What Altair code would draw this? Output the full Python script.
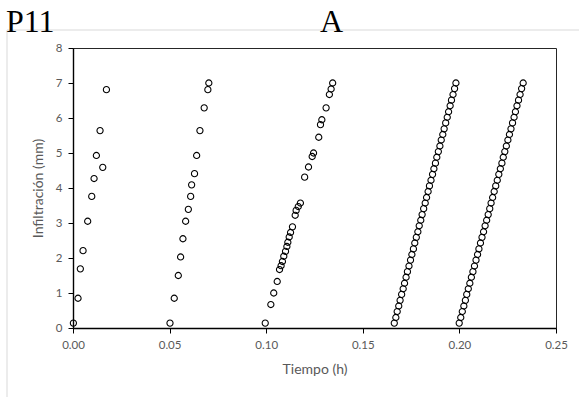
import altair as alt
import pandas as pd

# Series 1
x1 = [0.0002, 0.0026, 0.0038, 0.0052, 0.0076, 0.0097, 0.0109, 0.0121, 0.0154, 0.0140, 0.0173]
y1 = [0.14, 0.85, 1.69, 2.21, 3.05, 3.76, 4.27, 4.93, 4.59, 5.64, 6.81]

# Series 2
x2 = [0.0502, 0.0524, 0.0545, 0.0557, 0.0569, 0.0583, 0.0597, 0.0609, 0.0614, 0.0629, 0.0640,
      0.0657, 0.0679, 0.0698, 0.0703]
y2 = [0.14, 0.85, 1.50, 2.03, 2.55, 3.05, 3.39, 3.76, 4.09, 4.41, 4.93,
      5.64, 6.29, 6.81, 7.00]

# Series 3
x3 = [0.0995, 0.1024, 0.1039, 0.1057, 0.1069, 0.1077, 0.1084, 0.1091, 0.1100, 0.1107, 0.1112,
      0.1119, 0.1126, 0.1136, 0.1150, 0.1155, 0.1166, 0.1177, 0.1199, 0.1219, 0.1238, 0.1245,
      0.1272, 0.1281, 0.1288, 0.1310, 0.1327, 0.1336, 0.1344]
y3 = [0.14, 0.67, 1.00, 1.33, 1.67, 1.78, 1.90, 2.05, 2.19, 2.33, 2.45,
      2.60, 2.73, 2.89, 3.22, 3.36, 3.47, 3.57, 4.31, 4.60, 4.90, 5.00,
      5.45, 5.81, 5.95, 6.29, 6.67, 6.83, 7.00]

# Series 4 and 5 share the infiltration readings
y45 = [0.14, 0.30, 0.47, 0.63, 0.79, 0.96, 1.12, 1.28, 1.45, 1.61, 1.77, 1.94, 2.10, 2.26,
       2.43, 2.59, 2.75, 2.92, 3.08, 3.24, 3.41, 3.57, 3.73, 3.90, 4.06, 4.22, 4.39, 4.55,
       4.71, 4.88, 5.04, 5.20, 5.37, 5.53, 5.69, 5.86, 6.02, 6.18, 6.35, 6.51, 6.67, 6.84, 7.00]
x4 = [0.1663, 0.1671, 0.1678, 0.1686, 0.1693, 0.1701, 0.1709, 0.1716, 0.1724, 0.1731, 0.1739,
      0.1747, 0.1754, 0.1762, 0.1769, 0.1777, 0.1785, 0.1792, 0.1800, 0.1807, 0.1815, 0.1823,
      0.1830, 0.1838, 0.1845, 0.1853, 0.1861, 0.1868, 0.1876, 0.1883, 0.1891, 0.1899, 0.1906,
      0.1914, 0.1921, 0.1929, 0.1937, 0.1944, 0.1952, 0.1959, 0.1967, 0.1975, 0.1982]
x5 = [0.1999, 0.2007, 0.2015, 0.2023, 0.2031, 0.2038, 0.2046, 0.2054, 0.2062, 0.2070, 0.2078,
      0.2086, 0.2094, 0.2101, 0.2109, 0.2117, 0.2125, 0.2133, 0.2141, 0.2149, 0.2157, 0.2164,
      0.2172, 0.2180, 0.2188, 0.2196, 0.2204, 0.2212, 0.2220, 0.2227, 0.2235, 0.2243, 0.2251,
      0.2259, 0.2267, 0.2275, 0.2283, 0.2290, 0.2298, 0.2306, 0.2314, 0.2322, 0.2330]

x_ticks = [0.0, 0.05, 0.10, 0.15, 0.20, 0.25]
y_ticks = [0, 1, 2, 3, 4, 5, 6, 7, 8]

rows = []
for name, xs, ys in [("s1", x1, y1), ("s2", x2, y2), ("s3", x3, y3), ("s4", x4, y45), ("s5", x5, y45)]:
    for a, b in zip(xs, ys):
        rows.append({"serie": name, "t": a, "inf": b})
df = pd.DataFrame(rows)

LABEL_FONT = "Lato"

points = alt.Chart(df).mark_point(
    shape="circle", filled=False, color="black", size=38, strokeWidth=1.1, opacity=1
).encode(
    x=alt.X("t:Q", scale=alt.Scale(domain=[0, 0.25], nice=False),
            axis=alt.Axis(values=x_ticks, format=".2f", title="Tiempo (h)", grid=False,
                          labelPadding=6, titlePadding=12, labelFlush=False)),
    y=alt.Y("inf:Q", scale=alt.Scale(domain=[0, 8], nice=False),
            axis=alt.Axis(values=y_ticks, title="Infiltración (mm)", grid=False,
                          labelPadding=6, titlePadding=10, labelFlush=False)),
    detail="serie:N",
)

titles = pd.DataFrame({"label": ["P11"]})
p11 = alt.Chart(titles).mark_text(
    font="Liberation Serif", fontSize=32, align="left", baseline="alphabetic", color="black"
).encode(x=alt.value(-67), y=alt.value(-16.5), text="label:N")

a_lab = alt.Chart(pd.DataFrame({"label": ["A"]})).mark_text(
    font="Liberation Serif", fontSize=32, align="center", baseline="alphabetic", color="black"
).encode(x=alt.value(258.5), y=alt.value(-16.5), text="label:N")

border_top = alt.Chart(titles).mark_rule(color="#d9d9d9", strokeWidth=1).encode(
    x=alt.value(-66), x2=alt.value(510), y=alt.value(-18))
border_left = alt.Chart(titles).mark_rule(color="#d9d9d9", strokeWidth=1).encode(
    x=alt.value(-66), y=alt.value(-18), y2=alt.value(352))

chart = alt.layer(border_top, border_left, points, p11, a_lab).properties(
    width=483, height=280,
    autosize=alt.AutoSizeParams(type="none"),
    padding={"left": 73, "top": 48, "right": 23, "bottom": 69},
    background="white",
).configure_view(
    stroke="#262626", strokeWidth=1
).configure_axis(
    domainColor="black", domainWidth=1.4, tickColor="black", tickSize=5, tickWidth=1,
    labelColor="#595959", titleColor="#595959", labelFont=LABEL_FONT, titleFont=LABEL_FONT,
    labelFontSize=11.5, titleFontSize=14, titleFontWeight="normal",
)

chart.save("out.html", embed_options={"renderer": "svg", "actions": False})
